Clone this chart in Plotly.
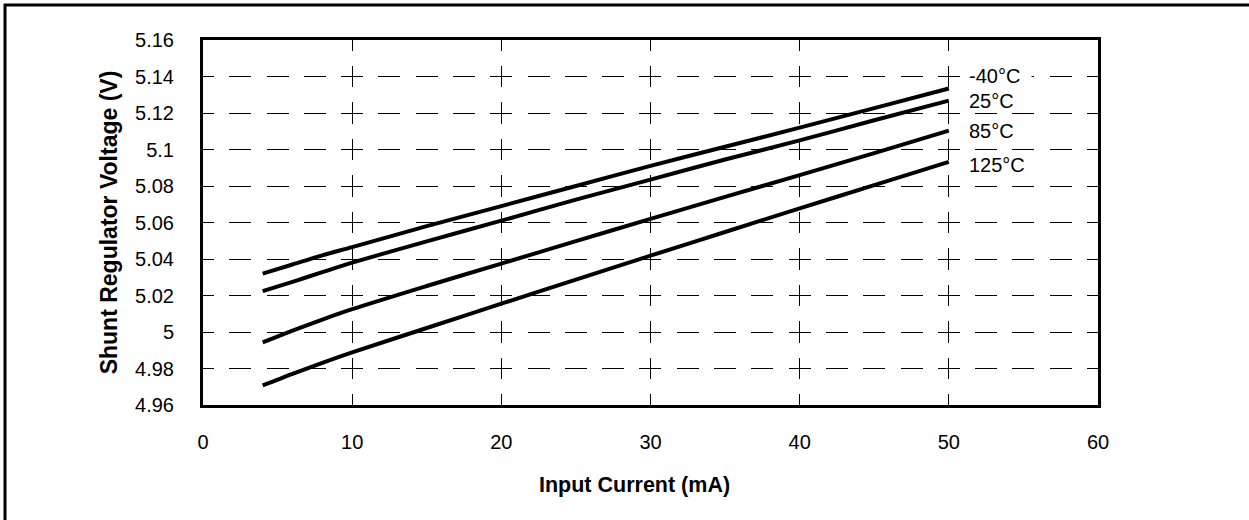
import plotly.graph_objects as go

# Data
current_ma = [4, 6, 8, 10, 15, 20, 25, 30, 35, 40, 45, 50]
v_m40 = [5.032, 5.037, 5.042, 5.0465, 5.058, 5.069, 5.080, 5.091, 5.1015, 5.112, 5.1227, 5.1334]
v_25 = [5.0224, 5.0275, 5.0328, 5.038, 5.0497, 5.061, 5.0725, 5.0835, 5.0945, 5.105, 5.116, 5.1268]
v_85 = [4.9943, 5.0007, 5.0068, 5.0125, 5.0252, 5.0375, 5.0498, 5.062, 5.074, 5.086, 5.098, 5.1103]
v_125 = [4.9707, 4.9771, 4.9831, 4.9888, 5.0022, 5.0155, 5.0287, 5.0418, 5.0548, 5.0677, 5.0805, 5.0932]
series_names = ["-40°C", "25°C", "85°C", "125°C"]
series_values = [v_m40, v_25, v_85, v_125]
label_offsets = [0.007, 0.0, 0.0, -0.0015]

x_ticks = [0, 10, 20, 30, 40, 50, 60]
y_ticks = [4.96, 4.98, 5.0, 5.02, 5.04, 5.06, 5.08, 5.1, 5.12, 5.14, 5.16]
y_tick_text = ["4.96", "4.98", "5", "5.02", "5.04", "5.06", "5.08", "5.1", "5.12", "5.14", "5.16"]
x_title = "Input Current (mA)"
y_title = "Shunt Regulator Voltage (V)"

FONT = "Arial, Liberation Sans, sans-serif"
W, H = 1249, 520
L, R, T, B = 203, 151, 40, 115
PW, PH = W - L - R, H - T - B

fig = go.Figure()
for name, vals in zip(series_names, series_values):
    fig.add_trace(go.Scatter(x=current_ma, y=vals, mode="lines", name=name,
                             line=dict(color="black", width=4, shape="spline", smoothing=0.8),
                             showlegend=False, hoverinfo="skip"))

for name, vals, off in zip(series_names, series_values, label_offsets):
    is_top = name == "-40°C"
    fig.add_annotation(x=51.3, y=vals[-1] + off, xref="x", yref="y",
                       text=name + ("&nbsp;&nbsp;" if is_top else ""),
                       showarrow=False, xanchor="left", yanchor="middle",
                       font=dict(family=FONT, size=20, color="black"),
                       bgcolor="white" if is_top else "rgba(0,0,0,0)",
                       borderpad=0)

# x-axis title as annotation (slightly left of plot centre, as in the reference)
fig.add_annotation(x=(634.5 - L) / PW, y=-(485 - (T + PH)) / PH, xref="paper", yref="paper",
                   text=f"<b>{x_title}</b>", showarrow=False, xanchor="center", yanchor="middle",
                   font=dict(family=FONT, size=21.5, color="black"))

# vertical grid period (10 intervals) and horizontal grid period (24 dashes)
vp = PH / 10.0
hp = PW / 24.0
vdash = f"{vp*0.29:.2f}px,{vp*0.42:.2f}px,{vp*0.29:.2f}px,0px"
hdash = f"{hp*0.295:.2f}px,{hp*0.41:.2f}px,{hp*0.295:.2f}px,0px"

fig.update_xaxes(range=[0, 60], tickvals=x_ticks, ticks="", showgrid=True,
                 gridcolor="black", gridwidth=1, griddash=vdash,
                 showline=True, linecolor="black", linewidth=3, mirror=True,
                 zeroline=False, tickfont=dict(family=FONT, size=20, color="black"),
                 ticklabelstandoff=17)
fig.update_yaxes(range=[4.96, 5.16], tickvals=y_ticks, ticktext=y_tick_text, ticks="",
                 showgrid=True, gridcolor="black", gridwidth=1, griddash=hdash,
                 showline=True, linecolor="black", linewidth=3, mirror=True,
                 zeroline=False, tickfont=dict(family=FONT, size=20, color="black"),
                 ticklabelstandoff=22,
                 title=dict(text=f"<b>{y_title}</b>", standoff=12,
                            font=dict(family=FONT, size=23, color="black")))

# outer frame of the figure
fig.add_shape(type="rect", xref="paper", yref="paper",
              x0=(5 - L) / PW, x1=(W + 20 - L) / PW,
              y0=-(H + 20 - T - PH) / PH, y1=(PH + T - 5) / PH,
              line=dict(color="black", width=3), fillcolor="rgba(0,0,0,0)", layer="below")

fig.update_layout(width=W, height=H, margin=dict(l=L, r=R, t=T, b=B, autoexpand=False),
                  paper_bgcolor="white", plot_bgcolor="white",
                  font=dict(family=FONT, color="black"))
fig.write_html("out.html", config={"displayModeBar": False},
               post_script="document.body.style.margin='0px';document.body.style.overflow='hidden';")
